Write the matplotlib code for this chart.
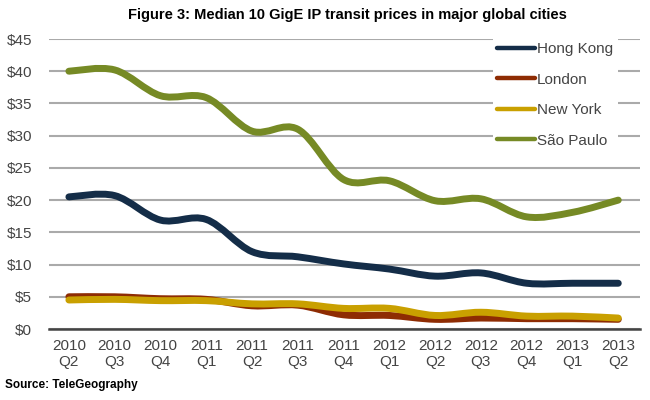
import matplotlib
matplotlib.use("Agg")
import matplotlib.pyplot as plt
import numpy as np
from matplotlib.path import Path
from matplotlib.patches import PathPatch
from matplotlib.lines import Line2D

plt.rcParams['font.family'] = ['Liberation Sans', 'DejaVu Sans']

quarters = ["2010\nQ2", "2010\nQ3", "2010\nQ4", "2011\nQ1", "2011\nQ2", "2011\nQ3", "2011\nQ4",
            "2012\nQ1", "2012\nQ2", "2012\nQ3", "2012\nQ4", "2013\nQ1", "2013\nQ2"]

hong_kong = [20.5, 20.7, 16.9, 17.0, 12.0, 11.2, 10.1, 9.3, 8.2, 8.7, 7.1, 7.1, 7.1]
london = [5.0, 5.0, 4.7, 4.6, 3.6, 3.7, 2.2, 2.1, 1.5, 1.7, 1.6, 1.6, 1.5]
new_york = [4.5, 4.6, 4.4, 4.4, 3.9, 3.9, 3.2, 3.2, 2.1, 2.6, 2.0, 2.0, 1.7]
sao_paulo = [40.0, 40.2, 36.2, 35.9, 30.7, 31.0, 23.2, 23.0, 19.9, 20.2, 17.4, 18.1, 20.0]

series = [("Hong Kong", hong_kong, "#142d48"),
          ("London", london, "#8e2c03"),
          ("New York", new_york, "#c9a000"),
          ("São Paulo", sao_paulo, "#768a25")]

yticks = [0, 5, 10, 15, 20, 25, 30, 35, 40, 45]


def smooth_path(xs, ys):
    # catmull-rom through the points, drawn as cubic beziers
    pts = np.column_stack([xs, ys]).astype(float)
    verts = [pts[0]]
    codes = [Path.MOVETO]
    n = len(pts)
    for i in range(n - 1):
        p0 = pts[i - 1] if i > 0 else pts[i]
        p1, p2 = pts[i], pts[i + 1]
        p3 = pts[i + 2] if i + 2 < n else pts[i + 1]
        c1 = p1 + (p2 - p0) / 6.0
        c2 = p2 - (p3 - p1) / 6.0
        verts += [c1, c2, p2]
        codes += [Path.CURVE4] * 3
    return Path(verts, codes)


fig = plt.figure(figsize=(6.5, 4), dpi=100)
ax = fig.add_axes([0.075, 0.1775, 0.91, 0.725])

x = np.arange(len(quarters))
for name, vals, col in series:
    patch = PathPatch(smooth_path(x, vals), facecolor="none", edgecolor=col,
                      lw=5.0, capstyle="round", joinstyle="round", zorder=3)
    ax.add_patch(patch)

ax.set_xlim(-0.44, 12.48)
ax.set_ylim(0, 45)
ax.set_yticks(yticks)
ax.set_yticklabels(["$%d" % v for v in yticks])
ax.set_xticks(x)
ax.set_xticklabels(quarters)
ax.tick_params(length=0, labelsize=11, labelcolor="#444444")
ax.tick_params(axis="y", pad=12)
ax.tick_params(axis="x", pad=7)
for lab in ax.get_xticklabels():
    lab.set_linespacing(1.2)

ax.yaxis.grid(True, color="#aaaaaa", lw=1.5)
ax.set_axisbelow(True)
for s in ["top", "right", "left"]:
    ax.spines[s].set_visible(False)
ax.spines["bottom"].set_color("#444444")
ax.spines["bottom"].set_linewidth(1.8)
ax.spines["bottom"].set_zorder(1)

handles = [Line2D([0], [0], color=col, lw=3.2, solid_capstyle="round") for _, _, col in series]
leg = ax.legend(handles, [s[0] for s in series], loc="upper left",
                bbox_to_anchor=(485 / 650, 0.925), bbox_transform=fig.transFigure,
                frameon=True, facecolor="white", edgecolor="none", framealpha=1,
                fontsize=11, handlelength=2.5, handletextpad=0.1,
                labelspacing=1.08, borderpad=0.3, fancybox=False)
for t in leg.get_texts():
    t.set_color("#444444")

fig.text(0.535, 0.962, "Figure 3: Median 10 GigE IP transit prices in major global cities",
         ha="center", va="center", fontsize=10.5, fontweight="bold")
fig.text(0.008, 0.037, "Source: TeleGeography", ha="left", va="center",
         fontsize=8.5, fontweight="bold")

fig.savefig("out.png", dpi=100)
